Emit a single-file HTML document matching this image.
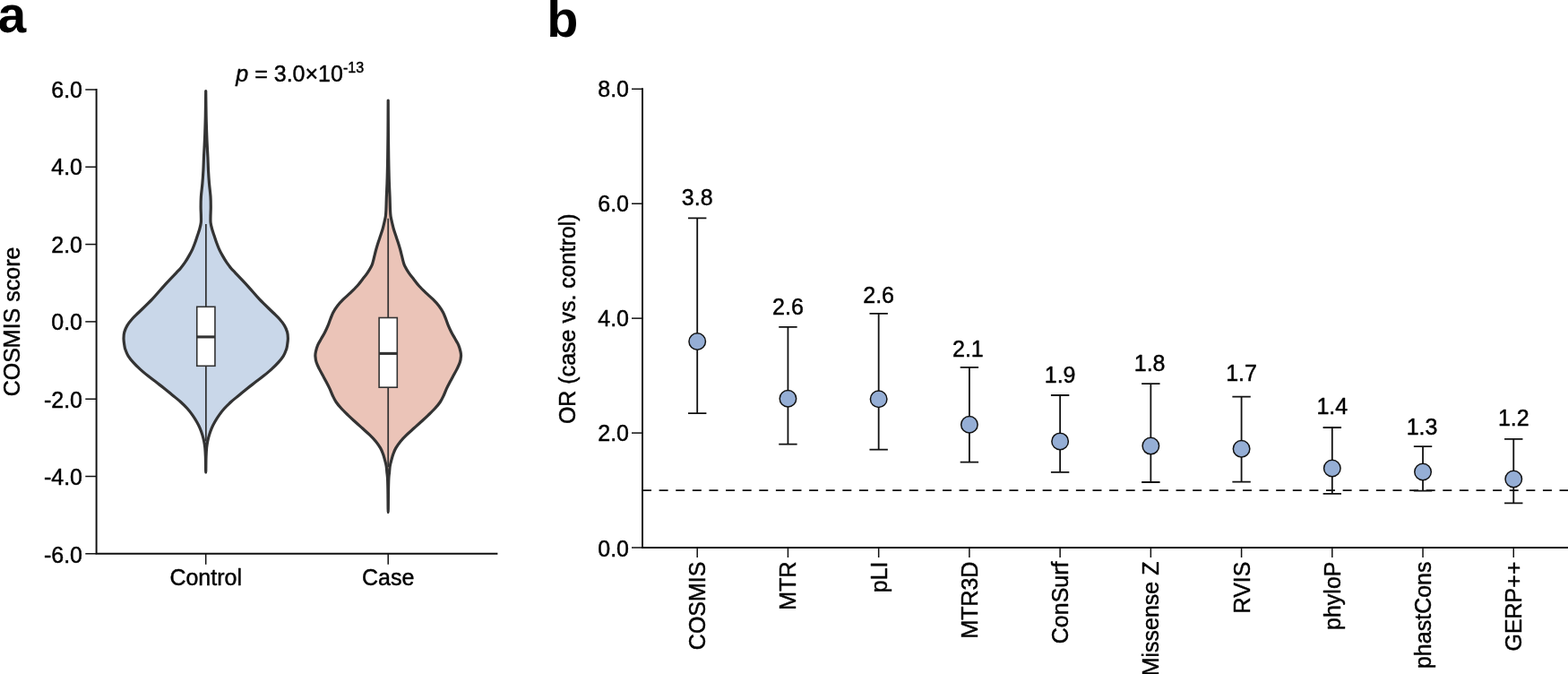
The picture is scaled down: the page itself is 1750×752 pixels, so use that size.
<!DOCTYPE html>
<html><head><meta charset="utf-8"><title>Figure</title>
<style>html,body{margin:0;padding:0;background:#fff;overflow:hidden}body{width:1750px;height:752px;position:relative}
svg.fig{position:absolute;left:0;top:0;font-family:"Liberation Sans",sans-serif;font-size:25px}
svg.fig text{stroke:#000;stroke-width:0.45px;stroke-linejoin:round}</style>
</head><body>
<svg width="1750" height="752" viewBox="0 0 1750 752" class="fig" fill="#000">
<rect width="1750" height="752" fill="#fff"/>
<text x="-2.6" y="35.5" font-size="57" font-weight="bold" style="stroke:none">a</text>
<text x="610.3" y="40.6" font-size="57.5" font-weight="bold" style="stroke:none">b</text>
<text x="334.7" y="90.9" text-anchor="middle"><tspan font-style="italic">p</tspan> = 3.0×10<tspan font-size="16" dy="-10">-13</tspan></text>
<path d="M229.70,101.50 C229.77,106.25 229.93,121.92 230.10,130.00 C230.27,138.08 230.52,144.75 230.70,150.00 C230.88,155.25 231.00,157.37 231.20,161.50 C231.40,165.63 231.68,170.05 231.90,174.80 C232.12,179.55 232.23,185.03 232.50,190.00 C232.77,194.97 233.08,199.72 233.50,204.60 C233.92,209.48 234.70,214.90 235.00,219.30 C235.30,223.70 235.30,227.35 235.30,231.00 C235.30,234.65 235.03,238.28 235.00,241.20 C234.97,244.12 234.82,246.07 235.10,248.50 C235.38,250.93 236.03,253.37 236.70,255.80 C237.37,258.23 238.28,260.65 239.10,263.10 C239.92,265.55 240.70,268.05 241.60,270.50 C242.50,272.95 243.38,275.37 244.50,277.80 C245.62,280.23 246.93,282.67 248.30,285.10 C249.67,287.53 251.05,289.97 252.70,292.40 C254.35,294.83 256.52,297.67 258.20,299.70 C259.88,301.73 259.72,301.33 262.80,304.60 C265.88,307.87 272.23,314.42 276.70,319.30 C281.17,324.18 284.97,329.03 289.60,333.90 C294.23,338.77 300.80,344.85 304.50,348.50 C308.20,352.15 309.65,353.37 311.80,355.80 C313.95,358.23 315.93,360.65 317.40,363.10 C318.87,365.55 319.93,368.05 320.60,370.50 C321.27,372.95 321.40,375.37 321.40,377.80 C321.40,380.23 320.92,383.07 320.60,385.10 C320.28,387.13 320.23,387.97 319.50,390.00 C318.77,392.03 317.72,394.87 316.20,397.30 C314.68,399.73 312.58,402.17 310.40,404.60 C308.22,407.03 305.78,409.45 303.10,411.90 C300.42,414.35 297.35,416.85 294.30,419.30 C291.25,421.75 287.97,424.17 284.80,426.60 C281.63,429.03 278.35,431.47 275.30,433.90 C272.25,436.33 269.43,438.77 266.50,441.20 C263.57,443.63 260.38,446.07 257.70,448.50 C255.02,450.93 252.58,453.37 250.40,455.80 C248.22,458.23 246.35,460.65 244.60,463.10 C242.85,465.55 241.30,468.05 239.90,470.50 C238.50,472.95 237.25,475.37 236.20,477.80 C235.15,480.23 234.35,482.67 233.60,485.10 C232.85,487.53 232.20,489.97 231.70,492.40 C231.20,494.83 230.88,496.77 230.60,499.70 C230.32,502.63 230.15,505.45 230.00,510.00 C229.85,514.55 229.80,527.00 229.70,527.00 C229.60,527.00 229.55,514.55 229.40,510.00 C229.25,505.45 229.08,502.63 228.80,499.70 C228.52,496.77 228.20,494.83 227.70,492.40 C227.20,489.97 226.55,487.53 225.80,485.10 C225.05,482.67 224.25,480.23 223.20,477.80 C222.15,475.37 220.90,472.95 219.50,470.50 C218.10,468.05 216.55,465.55 214.80,463.10 C213.05,460.65 211.18,458.23 209.00,455.80 C206.82,453.37 204.38,450.93 201.70,448.50 C199.02,446.07 195.83,443.63 192.90,441.20 C189.97,438.77 187.15,436.33 184.10,433.90 C181.05,431.47 177.77,429.03 174.60,426.60 C171.43,424.17 168.15,421.75 165.10,419.30 C162.05,416.85 158.98,414.35 156.30,411.90 C153.62,409.45 151.18,407.03 149.00,404.60 C146.82,402.17 144.72,399.73 143.20,397.30 C141.68,394.87 140.63,392.03 139.90,390.00 C139.17,387.97 139.12,387.13 138.80,385.10 C138.48,383.07 138.00,380.23 138.00,377.80 C138.00,375.37 138.13,372.95 138.80,370.50 C139.47,368.05 140.53,365.55 142.00,363.10 C143.47,360.65 145.45,358.23 147.60,355.80 C149.75,353.37 151.20,352.15 154.90,348.50 C158.60,344.85 165.17,338.77 169.80,333.90 C174.43,329.03 178.23,324.18 182.70,319.30 C187.17,314.42 193.52,307.87 196.60,304.60 C199.68,301.33 199.52,301.73 201.20,299.70 C202.88,297.67 205.05,294.83 206.70,292.40 C208.35,289.97 209.73,287.53 211.10,285.10 C212.47,282.67 213.78,280.23 214.90,277.80 C216.02,275.37 216.90,272.95 217.80,270.50 C218.70,268.05 219.48,265.55 220.30,263.10 C221.12,260.65 222.03,258.23 222.70,255.80 C223.37,253.37 224.02,250.93 224.30,248.50 C224.58,246.07 224.43,244.12 224.40,241.20 C224.37,238.28 224.10,234.65 224.10,231.00 C224.10,227.35 224.10,223.70 224.40,219.30 C224.70,214.90 225.48,209.48 225.90,204.60 C226.32,199.72 226.63,194.97 226.90,190.00 C227.17,185.03 227.28,179.55 227.50,174.80 C227.72,170.05 228.00,165.63 228.20,161.50 C228.40,157.37 228.52,155.25 228.70,150.00 C228.88,144.75 229.13,138.08 229.30,130.00 C229.47,121.92 229.63,106.25 229.70,101.50 Z" fill="#c9d7e9" stroke="#333333" stroke-width="3.2" stroke-linejoin="round"/>
<path d="M433.20,112.00 C433.23,118.33 433.32,139.50 433.40,150.00 C433.48,160.50 433.60,168.33 433.70,175.00 C433.80,181.67 433.88,185.07 434.00,190.00 C434.12,194.93 434.22,199.72 434.40,204.60 C434.57,209.48 434.87,214.42 435.05,219.30 C435.23,224.18 435.33,230.25 435.50,233.90 C435.67,237.55 435.70,238.77 436.05,241.20 C436.40,243.63 437.04,246.07 437.60,248.50 C438.16,250.93 438.70,253.37 439.40,255.80 C440.10,258.23 440.98,260.65 441.80,263.10 C442.62,265.55 443.52,268.05 444.30,270.50 C445.08,272.95 445.82,275.37 446.50,277.80 C447.18,280.23 447.78,282.67 448.40,285.10 C449.02,287.53 449.60,290.37 450.20,292.40 C450.80,294.43 450.97,295.27 452.00,297.30 C453.03,299.33 454.73,302.17 456.40,304.60 C458.07,307.03 460.08,309.45 462.00,311.90 C463.92,314.35 465.70,316.85 467.90,319.30 C470.10,321.75 472.65,324.17 475.20,326.60 C477.75,329.03 480.77,331.47 483.20,333.90 C485.63,336.33 487.92,338.77 489.80,341.20 C491.68,343.63 493.20,346.07 494.50,348.50 C495.80,350.93 496.63,353.37 497.60,355.80 C498.57,358.23 499.28,360.65 500.30,363.10 C501.32,365.55 502.45,368.05 503.70,370.50 C504.95,372.95 506.45,375.37 507.80,377.80 C509.15,380.23 510.77,382.67 511.80,385.10 C512.83,387.53 513.55,390.37 514.00,392.40 C514.45,394.43 514.63,395.27 514.50,397.30 C514.37,399.33 513.97,402.17 513.20,404.60 C512.43,407.03 511.12,409.45 509.90,411.90 C508.68,414.35 507.22,416.85 505.90,419.30 C504.58,421.75 503.27,424.17 502.00,426.60 C500.73,429.03 499.43,431.47 498.30,433.90 C497.17,436.33 496.37,438.77 495.20,441.20 C494.03,443.63 492.93,446.07 491.30,448.50 C489.67,450.93 487.60,453.37 485.40,455.80 C483.20,458.23 480.65,460.65 478.10,463.10 C475.55,465.55 472.78,468.05 470.10,470.50 C467.42,472.95 464.70,475.37 462.00,477.80 C459.30,480.23 456.40,482.67 453.90,485.10 C451.40,487.53 449.02,489.93 447.00,492.40 C444.98,494.87 443.16,497.53 441.80,499.90 C440.44,502.27 439.67,504.38 438.85,506.60 C438.03,508.82 437.50,510.98 436.90,513.20 C436.30,515.42 435.63,517.68 435.25,519.90 C434.87,522.12 434.82,524.28 434.60,526.50 C434.37,528.72 434.08,529.87 433.90,533.20 C433.72,536.53 433.62,540.12 433.50,546.50 C433.38,552.88 433.30,571.50 433.20,571.50 C433.10,571.50 433.02,552.88 432.90,546.50 C432.78,540.12 432.68,536.53 432.50,533.20 C432.32,529.87 432.03,528.72 431.80,526.50 C431.57,524.28 431.53,522.12 431.15,519.90 C430.77,517.68 430.10,515.42 429.50,513.20 C428.90,510.98 428.37,508.82 427.55,506.60 C426.73,504.38 425.96,502.27 424.60,499.90 C423.24,497.53 421.42,494.87 419.40,492.40 C417.38,489.93 415.00,487.53 412.50,485.10 C410.00,482.67 407.10,480.23 404.40,477.80 C401.70,475.37 398.98,472.95 396.30,470.50 C393.62,468.05 390.85,465.55 388.30,463.10 C385.75,460.65 383.20,458.23 381.00,455.80 C378.80,453.37 376.73,450.93 375.10,448.50 C373.47,446.07 372.37,443.63 371.20,441.20 C370.03,438.77 369.23,436.33 368.10,433.90 C366.97,431.47 365.67,429.03 364.40,426.60 C363.13,424.17 361.82,421.75 360.50,419.30 C359.18,416.85 357.72,414.35 356.50,411.90 C355.28,409.45 353.97,407.03 353.20,404.60 C352.43,402.17 352.03,399.33 351.90,397.30 C351.77,395.27 351.95,394.43 352.40,392.40 C352.85,390.37 353.57,387.53 354.60,385.10 C355.63,382.67 357.25,380.23 358.60,377.80 C359.95,375.37 361.45,372.95 362.70,370.50 C363.95,368.05 365.08,365.55 366.10,363.10 C367.12,360.65 367.83,358.23 368.80,355.80 C369.77,353.37 370.60,350.93 371.90,348.50 C373.20,346.07 374.72,343.63 376.60,341.20 C378.48,338.77 380.77,336.33 383.20,333.90 C385.63,331.47 388.65,329.03 391.20,326.60 C393.75,324.17 396.30,321.75 398.50,319.30 C400.70,316.85 402.48,314.35 404.40,311.90 C406.32,309.45 408.33,307.03 410.00,304.60 C411.67,302.17 413.37,299.33 414.40,297.30 C415.43,295.27 415.60,294.43 416.20,292.40 C416.80,290.37 417.38,287.53 418.00,285.10 C418.62,282.67 419.22,280.23 419.90,277.80 C420.58,275.37 421.32,272.95 422.10,270.50 C422.88,268.05 423.78,265.55 424.60,263.10 C425.42,260.65 426.30,258.23 427.00,255.80 C427.70,253.37 428.24,250.93 428.80,248.50 C429.36,246.07 430.00,243.63 430.35,241.20 C430.70,238.77 430.73,237.55 430.90,233.90 C431.07,230.25 431.17,224.18 431.35,219.30 C431.53,214.42 431.82,209.48 432.00,204.60 C432.18,199.72 432.28,194.93 432.40,190.00 C432.52,185.07 432.60,181.67 432.70,175.00 C432.80,168.33 432.92,160.50 433.00,150.00 C433.08,139.50 433.17,118.33 433.20,112.00 Z" fill="#ebc4b8" stroke="#333333" stroke-width="3.2" stroke-linejoin="round"/>
<line x1="229.85" y1="250.0" x2="229.85" y2="492.4" stroke="#333333" stroke-width="1.75"/>
<rect x="219.75" y="342.3" width="20.2" height="66.0" fill="#fff" stroke="#333333" stroke-width="1.6"/>
<line x1="219.75" y1="375.9" x2="239.95" y2="375.9" stroke="#333333" stroke-width="3.1"/>
<line x1="433.2" y1="243.8" x2="433.2" y2="521" stroke="#333333" stroke-width="1.75"/>
<rect x="423.10" y="354.5" width="20.2" height="77.7" fill="#fff" stroke="#333333" stroke-width="1.6"/>
<line x1="423.10" y1="394.4" x2="443.30" y2="394.4" stroke="#333333" stroke-width="3.1"/>
<path d="M107.6,99.025 V617.8 H555.4" fill="none" stroke="#111" stroke-width="1.95"/>
<line x1="95.3" y1="100.00" x2="107.6" y2="100.00" stroke="#111" stroke-width="1.5"/>
<text x="92" y="108.90" text-anchor="end">6.0</text>
<line x1="95.3" y1="186.30" x2="107.6" y2="186.30" stroke="#111" stroke-width="1.5"/>
<text x="92" y="195.20" text-anchor="end">4.0</text>
<line x1="95.3" y1="272.60" x2="107.6" y2="272.60" stroke="#111" stroke-width="1.5"/>
<text x="92" y="281.50" text-anchor="end">2.0</text>
<line x1="95.3" y1="358.90" x2="107.6" y2="358.90" stroke="#111" stroke-width="1.5"/>
<text x="92" y="368.06" text-anchor="end">0.0</text>
<line x1="95.3" y1="445.20" x2="107.6" y2="445.20" stroke="#111" stroke-width="1.5"/>
<text x="92" y="454.62" text-anchor="end">-2.0</text>
<line x1="95.3" y1="531.50" x2="107.6" y2="531.50" stroke="#111" stroke-width="1.5"/>
<text x="92" y="541.18" text-anchor="end">-4.0</text>
<line x1="95.3" y1="617.80" x2="107.6" y2="617.80" stroke="#111" stroke-width="1.5"/>
<text x="92" y="627.74" text-anchor="end">-6.0</text>
<line x1="229.7" y1="617.8" x2="229.7" y2="629.8" stroke="#111" stroke-width="1.5"/>
<text x="229.7" y="652.7" text-anchor="middle">Control</text>
<line x1="433.2" y1="617.8" x2="433.2" y2="629.8" stroke="#111" stroke-width="1.5"/>
<text x="433.2" y="652.7" text-anchor="middle">Case</text>
<text transform="translate(22.2,359.0) rotate(-90)" text-anchor="middle">COSMIS score</text>
<path d="M717.0,98.325 V611.0 H1750" fill="none" stroke="#111" stroke-width="1.95"/>
<line x1="705.0" y1="99.30" x2="717.0" y2="99.30" stroke="#111" stroke-width="1.5"/>
<text x="702" y="108.20" text-anchor="end">8.0</text>
<line x1="705.0" y1="227.23" x2="717.0" y2="227.23" stroke="#111" stroke-width="1.5"/>
<text x="702" y="236.20" text-anchor="end">6.0</text>
<line x1="705.0" y1="355.15" x2="717.0" y2="355.15" stroke="#111" stroke-width="1.5"/>
<text x="702" y="364.00" text-anchor="end">4.0</text>
<line x1="705.0" y1="483.07" x2="717.0" y2="483.07" stroke="#111" stroke-width="1.5"/>
<text x="702" y="492.40" text-anchor="end">2.0</text>
<line x1="705.0" y1="611.00" x2="717.0" y2="611.00" stroke="#111" stroke-width="1.5"/>
<text x="702" y="621.00" text-anchor="end">0.0</text>
<text transform="translate(642.4,355.7) rotate(-90)" text-anchor="middle">OR (case vs. control)</text>
<line x1="717.0" y1="547.04" x2="1750" y2="547.04" stroke="#111" stroke-width="1.75" stroke-dasharray="10,8.61"/>
<line x1="778.20" y1="611.0" x2="778.20" y2="622.0" stroke="#111" stroke-width="1.5"/>
<path d="M768.00,243.3 H788.40 M778.20,243.3 V461.1 M768.00,461.1 H788.40" fill="none" stroke="#111" stroke-width="1.8"/>
<circle cx="778.20" cy="381.0" r="9.25" fill="#95aed5" stroke="#111" stroke-width="1.5"/>
<text x="778.20" y="228.70" text-anchor="middle">3.8</text>
<text transform="translate(787.20,626.5) rotate(-90)" text-anchor="end">COSMIS</text>
<line x1="879.43" y1="611.0" x2="879.43" y2="622.0" stroke="#111" stroke-width="1.5"/>
<path d="M869.23,364.8 H889.63 M879.43,364.8 V495.6 M869.23,495.6 H889.63" fill="none" stroke="#111" stroke-width="1.8"/>
<circle cx="879.43" cy="444.8" r="9.25" fill="#95aed5" stroke="#111" stroke-width="1.5"/>
<text x="879.43" y="351.40" text-anchor="middle">2.6</text>
<text transform="translate(888.43,626.5) rotate(-90)" text-anchor="end">MTR</text>
<line x1="980.66" y1="611.0" x2="980.66" y2="622.0" stroke="#111" stroke-width="1.5"/>
<path d="M970.46,349.9 H990.86 M980.66,349.9 V501.6 M970.46,501.6 H990.86" fill="none" stroke="#111" stroke-width="1.8"/>
<circle cx="980.66" cy="445.3" r="9.25" fill="#95aed5" stroke="#111" stroke-width="1.5"/>
<text x="980.66" y="338.20" text-anchor="middle">2.6</text>
<text transform="translate(989.66,626.5) rotate(-90)" text-anchor="end">pLI</text>
<line x1="1081.89" y1="611.0" x2="1081.89" y2="622.0" stroke="#111" stroke-width="1.5"/>
<path d="M1071.69,409.8 H1092.09 M1081.89,409.8 V515.6 M1071.69,515.6 H1092.09" fill="none" stroke="#111" stroke-width="1.8"/>
<circle cx="1081.89" cy="473.7" r="9.25" fill="#95aed5" stroke="#111" stroke-width="1.5"/>
<text x="1080.39" y="397.90" text-anchor="middle">2.1</text>
<text transform="translate(1090.89,626.5) rotate(-90)" text-anchor="end">MTR3D</text>
<line x1="1183.12" y1="611.0" x2="1183.12" y2="622.0" stroke="#111" stroke-width="1.5"/>
<path d="M1172.92,441.0 H1193.32 M1183.12,441.0 V526.8 M1172.92,526.8 H1193.32" fill="none" stroke="#111" stroke-width="1.8"/>
<circle cx="1183.12" cy="492.4" r="9.25" fill="#95aed5" stroke="#111" stroke-width="1.5"/>
<text x="1183.12" y="426.50" text-anchor="middle">1.9</text>
<text transform="translate(1192.12,626.5) rotate(-90)" text-anchor="end">ConSurf</text>
<line x1="1284.35" y1="611.0" x2="1284.35" y2="622.0" stroke="#111" stroke-width="1.5"/>
<path d="M1274.15,428.2 H1294.55 M1284.35,428.2 V538.0 M1274.15,538.0 H1294.55" fill="none" stroke="#111" stroke-width="1.8"/>
<circle cx="1284.35" cy="497.6" r="9.25" fill="#95aed5" stroke="#111" stroke-width="1.5"/>
<text x="1283.15" y="414.10" text-anchor="middle">1.8</text>
<text transform="translate(1293.35,626.5) rotate(-90)" text-anchor="end">Missense Z</text>
<line x1="1385.58" y1="611.0" x2="1385.58" y2="622.0" stroke="#111" stroke-width="1.5"/>
<path d="M1375.38,442.6 H1395.78 M1385.58,442.6 V537.6 M1375.38,537.6 H1395.78" fill="none" stroke="#111" stroke-width="1.8"/>
<circle cx="1385.58" cy="500.8" r="9.25" fill="#95aed5" stroke="#111" stroke-width="1.5"/>
<text x="1385.58" y="425.30" text-anchor="middle">1.7</text>
<text transform="translate(1394.58,626.5) rotate(-90)" text-anchor="end">RVIS</text>
<line x1="1486.81" y1="611.0" x2="1486.81" y2="622.0" stroke="#111" stroke-width="1.5"/>
<path d="M1476.61,477.0 H1497.01 M1486.81,477.0 V550.9 M1476.61,550.9 H1497.01" fill="none" stroke="#111" stroke-width="1.8"/>
<circle cx="1486.81" cy="522.5" r="9.25" fill="#95aed5" stroke="#111" stroke-width="1.5"/>
<text x="1486.81" y="461.90" text-anchor="middle">1.4</text>
<text transform="translate(1495.81,626.5) rotate(-90)" text-anchor="end">phyloP</text>
<line x1="1588.04" y1="611.0" x2="1588.04" y2="622.0" stroke="#111" stroke-width="1.5"/>
<path d="M1577.84,498.2 H1598.24 M1588.04,498.2 V547.7 M1577.84,547.7 H1598.24" fill="none" stroke="#111" stroke-width="1.8"/>
<circle cx="1588.04" cy="526.5" r="9.25" fill="#95aed5" stroke="#111" stroke-width="1.5"/>
<text x="1587.04" y="484.50" text-anchor="middle">1.3</text>
<text transform="translate(1597.04,626.5) rotate(-90)" text-anchor="end">phastCons</text>
<line x1="1689.27" y1="611.0" x2="1689.27" y2="622.0" stroke="#111" stroke-width="1.5"/>
<path d="M1679.07,489.8 H1699.47 M1689.27,489.8 V561.3 M1679.07,561.3 H1699.47" fill="none" stroke="#111" stroke-width="1.8"/>
<circle cx="1689.27" cy="534.5" r="9.25" fill="#95aed5" stroke="#111" stroke-width="1.5"/>
<text x="1689.27" y="475.00" text-anchor="middle">1.2</text>
<text transform="translate(1698.27,626.5) rotate(-90)" text-anchor="end">GERP++</text>
</svg>
</body></html>
